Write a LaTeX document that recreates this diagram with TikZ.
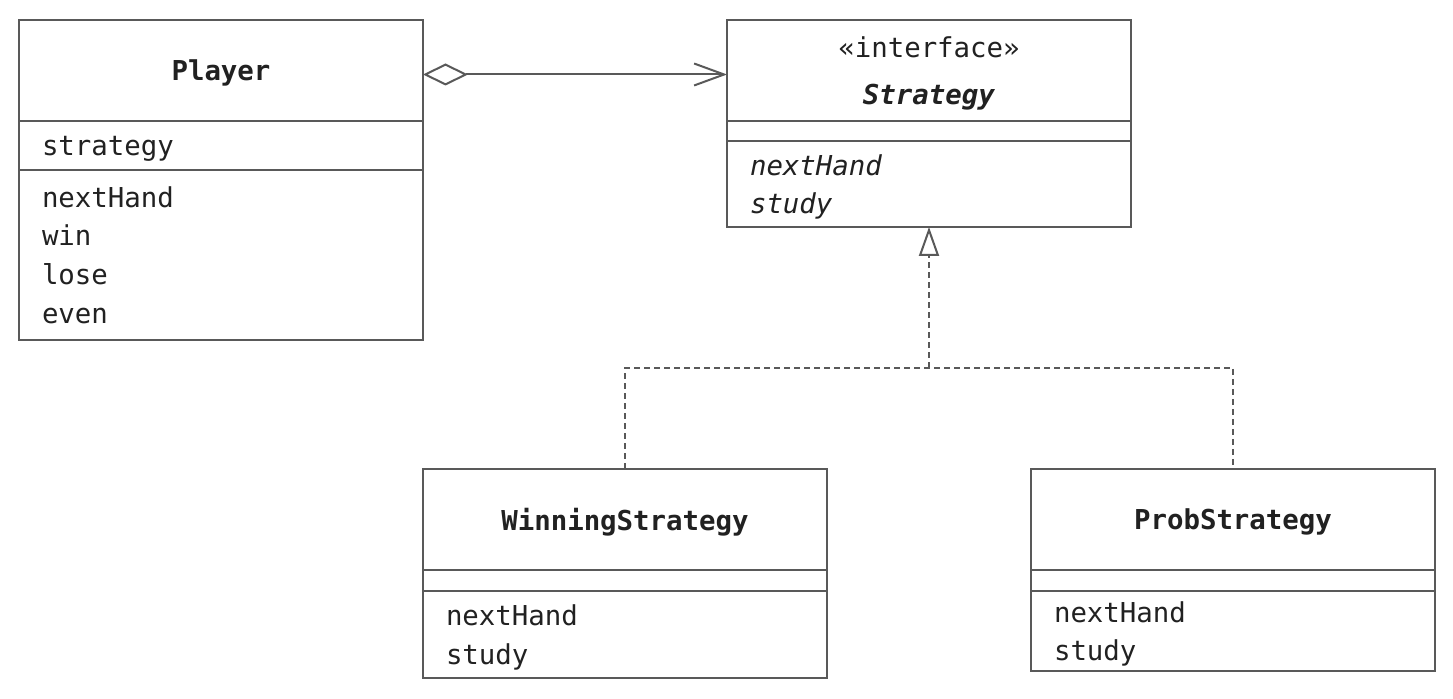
\documentclass[tikz,border=0pt]{standalone}
\usepackage{fontspec}
\setmonofont{DejaVu Sans Mono}
\usetikzlibrary{arrows.meta,positioning}
\definecolor{umlgray}{rgb}{0.35,0.35,0.35}
\definecolor{umltext}{rgb}{0.13,0.13,0.13}
\newcommand{\ult}[1]{\raisebox{0pt}[\height][0pt]{#1}}
\tikzset{
  seccion/.style={
    draw=umlgray,
    line width=1pt,
    fill=white,
    outer sep=0pt,
    inner xsep=11.5pt,
    inner ysep=0pt,
    text width=179pt,
    align=left,
    text=umltext,
    font=\ttfamily\fontsize{13.7pt}{19.35pt}\selectfont
  },
  cabecera/.style={
    seccion,
    align=center,
    minimum height=50.5pt,
    font=\ttfamily\bfseries\fontsize{13.7pt}{19.35pt}\selectfont
  },
  unalinea/.style={
    text depth=0pt
  },
  agrega/.style={
    {Diamond[open,length=22.5pt,width=11pt]}-{Straight Barb[length=15pt,width=11pt]},
    line width=1pt,
    umlgray
  },
  realiza/.style={
    dash pattern=on 3pt off 2pt,
    line width=1pt,
    umlgray
  }
}
\begin{document}
\begin{tikzpicture}[x=0.5pt,y=-0.5pt,node distance=0pt]
\useasboundingbox (0,0) rectangle (1453,699);
\node[cabecera,unalinea,anchor=north west] (pname) at (19,20) {Player};
\node[seccion,unalinea,minimum height=24.5pt,below=of pname] (pattr) {strategy};
\node[seccion,minimum height=85pt,below=of pattr] (pmeth) {nextHand\\win\\lose\\even};

\node[cabecera,anchor=north west,font=\ttfamily\fontsize{13.7pt}{19.35pt}\selectfont] (sname) at (727,20) {«interface»\\[4.15pt]\ult{\textbf{\textit{Strategy}}}};
\node[seccion,minimum height=10pt,below=of sname] (sattr) {};
\node[seccion,minimum height=43pt,below=of sattr,font=\ttfamily\itshape\fontsize{13.7pt}{19.35pt}\selectfont] (smeth) {nextHand\\\ult{study}};

\node[cabecera,unalinea,anchor=north west] (wname) at (423,469) {WinningStrategy};
\node[seccion,minimum height=10.5pt,below=of wname] (wattr) {};
\node[seccion,minimum height=43.5pt,below=of wattr] (wmeth) {nextHand\\\ult{study}};

\node[cabecera,unalinea,anchor=north west] (prname) at (1031,469) {ProbStrategy};
\node[seccion,minimum height=10.5pt,below=of prname] (prattr) {};
\node[seccion,minimum height=40pt,below=of prattr] (prmeth) {nextHand\\\ult{study}};

\draw[agrega] ([yshift=-2pt]pname.east) -- ([yshift=-2pt]sname.west);
\coordinate (nivel) at (0,368);
\coordinate (fork) at (smeth.south |- nivel);
\draw[realiza] (wname.north) |- (fork) -| (prname.north);
\draw[realiza,-{Triangle[open,length=14.5pt,width=10pt]}] (fork) -- (smeth.south);
\end{tikzpicture}
\end{document}
